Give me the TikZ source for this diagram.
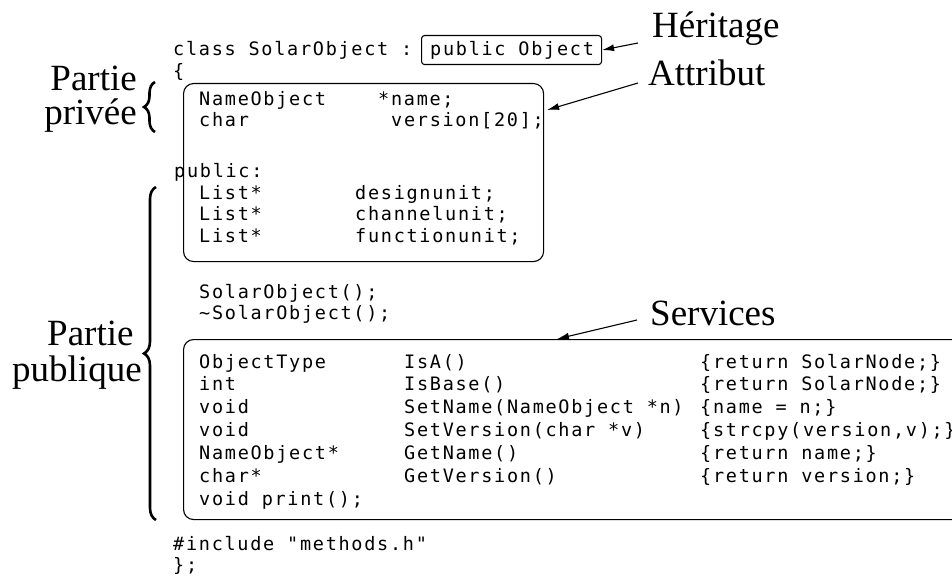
\documentclass[tikz,border=0pt]{standalone}
\usepackage{fontspec}
\setmainfont{Liberation Serif}
\newfontfamily\codefont{DejaVu Sans Mono}[LetterSpace=9.3]
\usetikzlibrary{arrows.meta,decorations.pathreplacing,calc}

\begin{document}
\begin{tikzpicture}[x=1pt,y=-1pt,
  code/.style={anchor=base west, inner sep=0pt, font=\codefont\fontsize{18.5}{21}\selectfont},
  lbl/.style={anchor=base west, inner sep=0pt, font=\fontsize{37}{40}\selectfont},
  frame/.style={draw, line width=1.1pt, rounded corners=10pt, inner sep=0pt},
  arr/.style={-{Latex[length=12pt,width=7pt]}, line width=1.1pt},
  bracestyle/.style={decorate, decoration={brace, amplitude=11pt}, line width=2.6pt}]

\useasboundingbox (0,0) rectangle (952,585);
\clip (0,0) rectangle (952,585);

% class header
\node[code] (hdr) at (173,56) {class SolarObject :};
\node[frame, rounded corners=3pt, minimum width=180pt, minimum height=29pt, anchor=north west] (inh) at (421,35) {};
\node[code] (base) at (430,56) {public Object};
\node[code] (open) at (173,78) {\{};

% attributes block
\node[frame, minimum width=360pt, minimum height=178pt, anchor=north west] (priv) at (183,83) {};
\node[code] (a1t) at (199,106) {NameObject};
\node[code] (a1n) at (378,106) {*name;};
\node[code] (a2t) at (199,127) {char};
\node[code] (a2n) at (391,127) {version[20];};
\node[code] (pub) at (174,178) {public:};
\node[code] (a3t) at (199,200) {List*};
\node[code] (a3n) at (355,200) {designunit;};
\node[code] (a4t) at (199,221) {List*};
\node[code] (a4n) at (355,221) {channelunit;};
\node[code] (a5t) at (199,243) {List*};
\node[code] (a5n) at (355,243) {functionunit;};

% constructor / destructor
\node[code] (ctor) at (199,298) {SolarObject();};
\node[code] (dtor) at (199,319) {\textasciitilde SolarObject();};

% services block
\node[frame, minimum width=800pt, minimum height=180pt, anchor=north west] (serv) at (183,339) {};
\foreach \t/\m/\b [count=\i from 0] in {
  ObjectType/IsA()/\{return SolarNode;\},
  int/IsBase()/\{return SolarNode;\},
  void/SetName(NameObject *n)/\{name = n;\},
  void/SetVersion(char *v)/\{strcpy(version{,}v);\},
  NameObject*/GetName()/\{return name;\},
  char*/GetVersion()/\{return version;\}}{
  \node[code] (s\i t) at (199,368+22.8*\i) {\t};
  \node[code] (s\i m) at (404,368+22.8*\i) {\m};
  \node[code] (s\i b) at (700,368+22.8*\i) {\b};
}
\node[code] (prn) at (199,505) {void print();};

% footer
\node[code] (inc) at (173,550) {\#include "methods.h"};
\node[code] (close) at (173,571) {\};};

% labels
\node[lbl] (heritage) at (652,38) {Héritage};
\node[lbl] (attribut) at (648,86) {Attribut};
\node[lbl] (services) at (650,325) {Services};
\node[lbl, anchor=base east] (pp1) at (137,91) {Partie};
\node[lbl, anchor=base east] (pp2) at (137,125) {privée};
\node[lbl] (pu1) at (47,345) {Partie};
\node[lbl] (pu2) at (12,381) {publique};

% braces
\draw[bracestyle] (155,132) -- (155,82);
\draw[bracestyle, decoration={amplitude=12pt}] (156,520) -- (156,187);

% arrows
\coordinate (hs) at (638,43);
\coordinate (as) at (638,83);
\coordinate (ss) at (637,320);
\draw[arr] (hs) -- (inh.east);
\draw[arr] (as) -- ($(priv.north east)+(3,27)$);
\draw[arr] (ss) -- ($(serv.north west)+(374,0)$);
\end{tikzpicture}
\end{document}
